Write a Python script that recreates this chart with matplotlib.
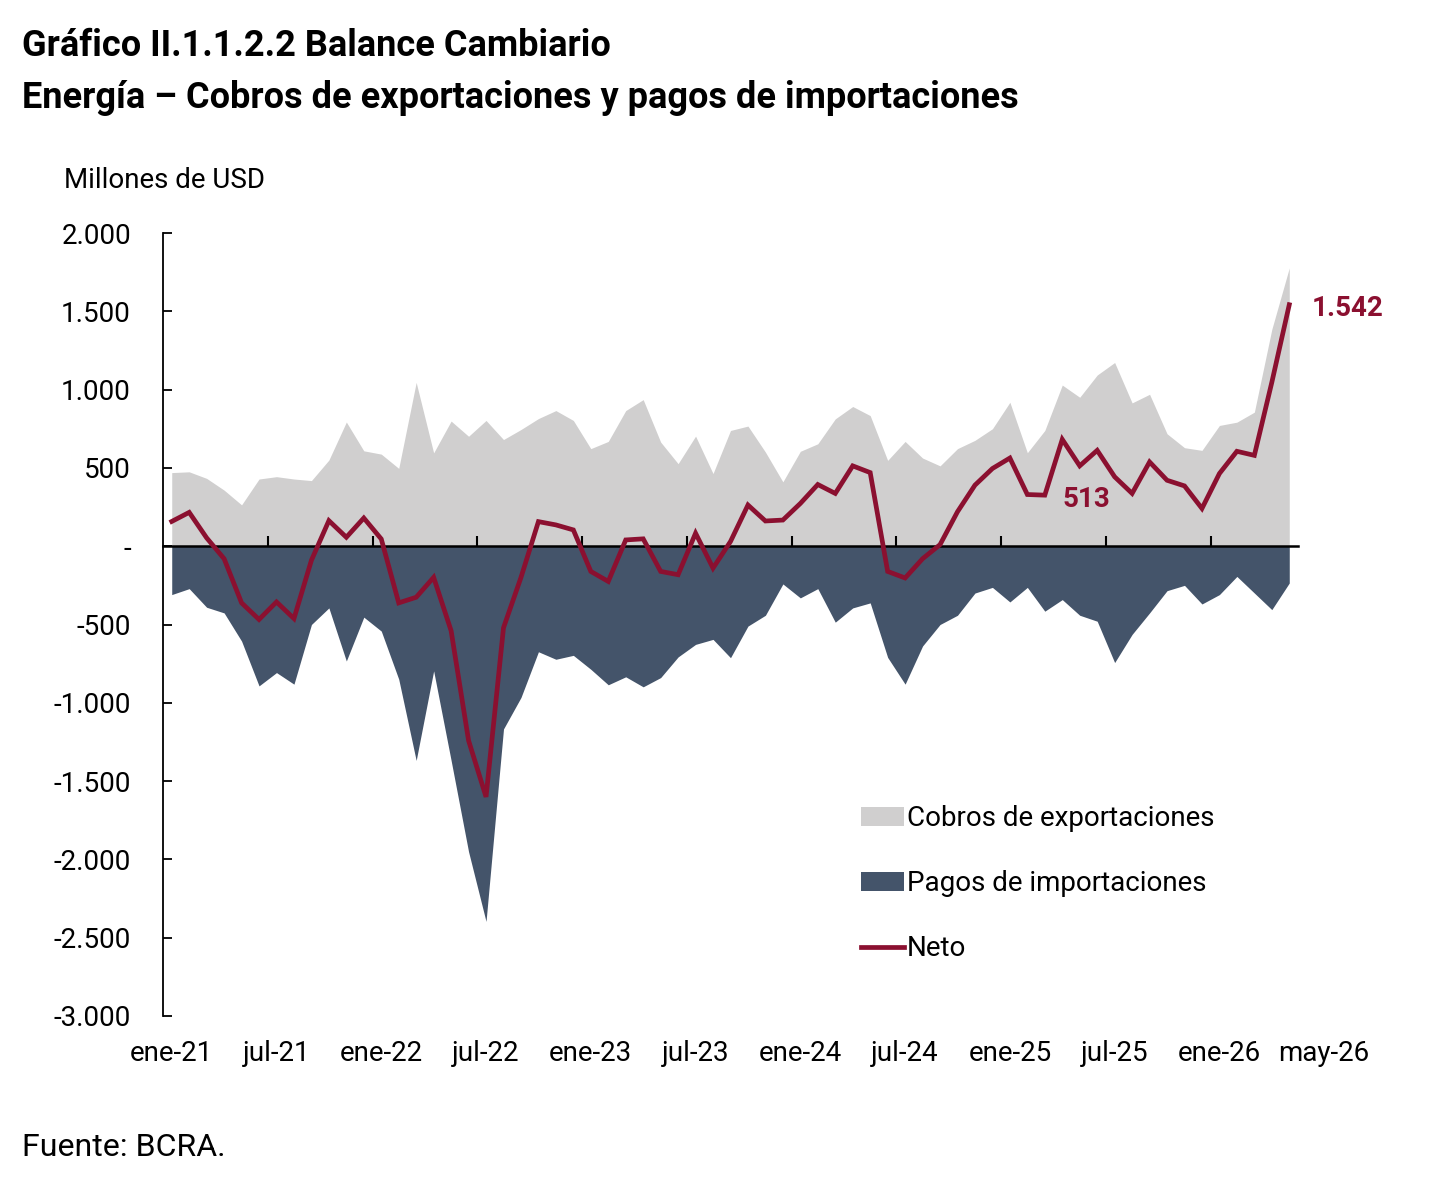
import matplotlib
matplotlib.use("Agg")
import matplotlib.pyplot as plt
import matplotlib.transforms as mtransforms
import numpy as np

plt.rcParams['font.family'] = ['Roboto', 'DejaVu Sans']

# datos mensuales ene-21 .. may-26 (millones de USD)
cobros = [470, 475, 433, 358, 264, 429, 444, 429, 419, 550, 793, 609, 588, 497, 1046, 596,
          799, 702, 803, 681, 745, 815, 866, 803, 623, 669, 866, 936, 665, 527, 703, 464,
          739, 767, 601, 411, 606, 654, 813, 892, 834, 548, 669, 563, 513, 623, 676, 750,
          919, 597, 739, 1029, 951, 1093, 1173, 915, 970, 718, 629, 612, 771, 792, 856,
          1385, 1777]
pagos = [-309, -271, -390, -426, -606, -892, -807, -881, -500, -394, -733, -453, -542, -849,
         -1368, -796, -1368, -1951, -2396, -1167, -966, -674, -722, -697, -786, -885, -834,
         -898, -839, -707, -627, -595, -712, -510, -441, -241, -330, -271, -485, -394, -362,
         -710, -881, -637, -500, -441, -299, -263, -356, -263, -415, -341, -441, -479, -743,
         -563, -426, -284, -250, -369, -309, -193, -299, -405, -235]
neto = [158, 216, 53, -80, -362, -468, -356, -462, -90, 163, 57, 180, 46, -362, -326, -199,
        -540, -1241, -1601, -521, -200, 157, 136, 104, -161, -225, 40, 47, -161, -182, 83,
        -140, 30, 263, 161, 167, 273, 394, 337, 513, 470, -161, -203, -80, 10, 220, 390, 496,
        563, 330, 326, 682, 513, 612, 443, 337, 538, 421, 385, 241, 464, 606, 580, 1046, 1542]

etiquetas_x = ["ene-21", "jul-21", "ene-22", "jul-22", "ene-23", "jul-23", "ene-24",
               "jul-24", "ene-25", "jul-25", "ene-26", "may-26"]
valores_y = [2000, 1500, 1000, 500, 0, -500, -1000, -1500, -2000, -2500, -3000]
etiquetas_y = ["2.000", "1.500", "1.000", "500", "-", "-500", "-1.000", "-1.500",
               "-2.000", "-2.500", "-3.000"]

# anotaciones: may-25 y may-26
idx_anotados = [52, 64]

gris = "#D0CFCF"
azul = "#44546A"
rojo = "#8B1030"

x = np.arange(len(neto))

fig = plt.figure(figsize=(14.4, 11.84), dpi=100)
ax = fig.add_axes([163/1440, 1-1016/1184, (1298-163)/1440, (1016-233)/1184])

ax.fill_between(x, 0, cobros, color=gris, lw=0, label="Cobros de exportaciones", zorder=1)
ax.fill_between(x, 0, pagos, color=azul, lw=0, label="Pagos de importaciones", zorder=1)
ax.plot(x, neto, color=rojo, lw=3.4, label="Neto", zorder=4, solid_joinstyle='miter')

ax.set_xlim(-0.5, len(neto) - 0.5)
ax.set_ylim(-3000, 2000)

for s in ["top", "right"]:
    ax.spines[s].set_visible(False)
ax.spines["bottom"].set_position(("data", 0))
ax.spines["bottom"].set_linewidth(1.8)
ax.spines["bottom"].set_zorder(3)
ax.spines["left"].set_linewidth(1.3)

ax.set_xticks(np.arange(5.5, len(neto) - 1, 6))
ax.set_xticklabels([])
ax.tick_params(axis="x", direction="in", length=7, width=1.5)

ax.set_yticks(valores_y)
ax.set_yticklabels(etiquetas_y, fontsize=20)
ax.tick_params(axis="y", direction="in", length=6.5, width=1.3, pad=23)

trans = mtransforms.blended_transform_factory(ax.transData, ax.transAxes)
for k, lab in enumerate(etiquetas_x):
    ax.text(k * 6, -0.048, lab, transform=trans, ha="center", va="center", fontsize=20)

ax.text(idx_anotados[1] + 1.3, neto[idx_anotados[1]] - 25, f"{neto[idx_anotados[1]]:,}".replace(",", "."),
        color=rojo, fontsize=20, fontweight="bold", ha="left", va="center")
ax.text(idx_anotados[0] + 0.4, neto[idx_anotados[0]] - 300, f"{neto[idx_anotados[0]]}",
        color=rojo, fontsize=20, fontweight="bold", ha="center", va="bottom")

leg = fig.legend(loc="upper left", bbox_to_anchor=(861/1440, 1-805/1184), frameon=False,
                 fontsize=20, handlelength=1.55, handleheight=0.65, handletextpad=0.1,
                 labelspacing=1.37, borderpad=0, borderaxespad=0)

fig.text(22/1440, 1-46/1184, "Gráfico II.1.1.2.2 Balance Cambiario", fontsize=26,
         fontweight="bold", va="center", ha="left")
fig.text(22/1440, 1-98/1184, "Energía – Cobros de exportaciones y pagos de importaciones",
         fontsize=26, fontweight="bold", va="center", ha="left")
fig.text(64/1440, 1-181/1184, "Millones de USD", fontsize=20, va="center", ha="left")
fig.text(22/1440, 1-1147/1184, "Fuente: BCRA.", fontsize=23, va="center", ha="left")

fig.savefig("out.png", dpi=100)
